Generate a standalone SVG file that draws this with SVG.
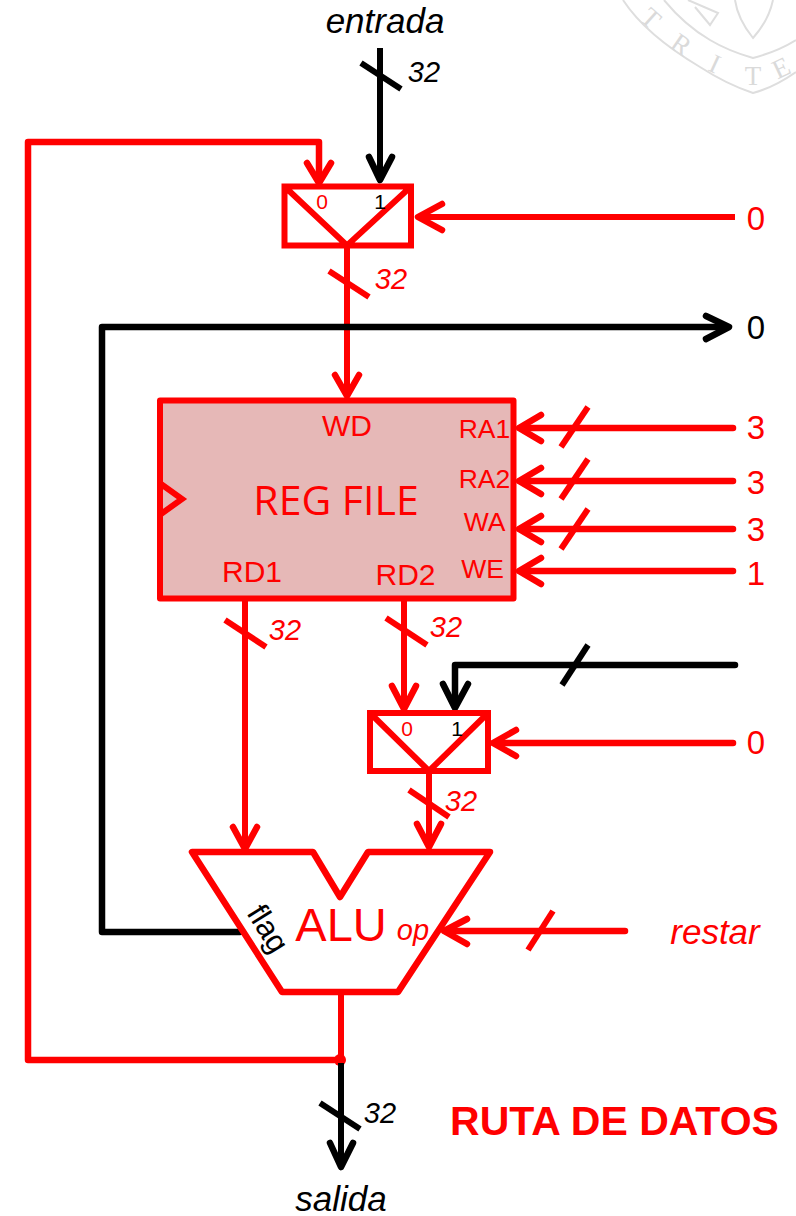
<svg xmlns="http://www.w3.org/2000/svg" width="796" height="1216" viewBox="0 0 796 1216">
<style>
text{font-family:"Liberation Sans",Arial,sans-serif}
.r{fill:none;stroke:#f00;stroke-width:6.500;stroke-linecap:round;stroke-linejoin:round}
.b{fill:none;stroke:#000;stroke-width:6.500;stroke-linecap:round;stroke-linejoin:round}
.rs{fill:none;stroke:#f00;stroke-width:6;stroke-linecap:butt;stroke-linejoin:miter}
.bs{fill:none;stroke:#000;stroke-width:6;stroke-linecap:butt;stroke-linejoin:miter}
.tr{fill:#f00}
.tb{fill:#000}
.i{font-style:italic}
.w{fill:none;stroke:#dedede;stroke-width:2}
.wt{fill:#dadada;font-family:"Liberation Serif",serif;font-size:27px}
</style>
<g id="watermark">
<path class="w" d="M623 0C640 26 668 48 700 67C717 78 735 87 753 93C768 89 783 81 796 72"/>
<path class="w" d="M664 0C678 17 693 30 710 40C725 49 739 54 753 58C768 54 783 48 796 40"/>
<path class="w" d="M735 0C737 14 745 28 753 38C762 28 770 14 773 0"/>
<path class="w" d="M688 0L718 13L710 25L695 7"/>
<text class="wt" transform="translate(645 25) rotate(42)" text-anchor="middle">T</text>
<text class="wt" transform="translate(676 52) rotate(35)" text-anchor="middle">R</text>
<text class="wt" transform="translate(711 72) rotate(25)" text-anchor="middle">I</text>
<text class="wt" transform="translate(753 85)" text-anchor="middle">T</text>
<text class="wt" transform="translate(785 76) rotate(-25)" text-anchor="middle">E</text>
</g>
<g id="connectors">
<path class="bs" d="M380 48V178"/><path class="b" d="M369 157L380 180L392 157" stroke-width="7"/>
<path class="bs" d="M361 63L401 89"/>
<path class="r" d="M319 178V142H28V1060H340"/>
<path class="r" d="M307 163L319 183L331 163"/>
<path class="rs" d="M735 217H420"/><path class="r" d="M442 204L418 217L442 230"/>
<path class="rs" d="M347 246V396"/><path class="r" d="M335 375L347 396L359 375"/>
<path class="rs" d="M329 271L369 297"/>
<path class="b" d="M726 327H102V932H240"/><path class="b" d="M706 316L729 327L706 339"/>
<path class="r" d="M733 428H520"/><path class="r" d="M541 415L519 428L541 441"/><path class="rs" d="M561 447L588 407"/>
<path class="r" d="M733 481H520"/><path class="r" d="M541 468L519 481L541 494"/><path class="rs" d="M561 499L588 459"/>
<path class="r" d="M733 529H520"/><path class="r" d="M541 516L519 529L541 542"/><path class="rs" d="M561 549L588 509"/>
<path class="r" d="M733 571H520"/><path class="r" d="M541 558L519 571L541 584"/>
<path class="rs" d="M245 600V848"/><path class="r" d="M233 827L245 849L257 827"/>
<path class="rs" d="M225 620L266 647"/>
<path class="rs" d="M404 600V706"/><path class="r" d="M392 686L404 709L416 686"/>
<path class="rs" d="M386 618L427 645"/>
<path class="b" d="M735 665H455V706"/><path class="b" d="M443 684L455 708L468 684"/>
<path class="bs" d="M562 685L588 645"/>
<path class="r" d="M733 743H494"/><path class="r" d="M516 730L493 743L516 756"/>
<path class="rs" d="M429 772V846"/><path class="r" d="M417 824L429 847L441 824"/>
<path class="rs" d="M409 790L449 817"/>
<path class="r" d="M625 931H445"/><path class="r" d="M467 919L444 931L467 944"/>
<path class="rs" d="M528 950L553 911"/>
<path class="rs" d="M341 994V1060"/>
<circle cx="340" cy="1060" r="6" fill="#f00"/>
<path class="bs" d="M341 1063V1165"/><path class="b" d="M330 1143L341 1167L353 1143" stroke-width="7"/>
<path class="bs" d="M320 1103L360 1129"/>
</g>
<g id="mux1">
<path class="rs" d="M284.500 186.500H411V245.500H284.500ZM284.500 186.500L347 245.500L411 186.500"/>
<text class="tr" x="322" y="209" font-size="21" text-anchor="middle">0</text>
<text class="tb" x="380" y="209" font-size="21" text-anchor="middle">1</text>
</g>
<g id="regfile">
<rect x="160" y="400.500" width="353.500" height="198" fill="#e6b8b7" stroke="#f00" stroke-width="6" stroke-linejoin="round"/>
<path class="rs" d="M161 484L182 499L161 514"/>
<text class="tr" x="347" y="436" font-size="30" text-anchor="middle">WD</text>
<text class="tr" x="484.500" y="438" font-size="26.500" text-anchor="middle">RA1</text>
<text class="tr" x="484.500" y="488" font-size="26.500" text-anchor="middle">RA2</text>
<text class="tr" x="484.500" y="531" font-size="26.500" text-anchor="middle">WA</text>
<text class="tr" x="482.500" y="578" font-size="26.500" text-anchor="middle">WE</text>
<text class="tr" x="252" y="582" font-size="30" text-anchor="middle">RD1</text>
<text class="tr" x="405.500" y="585" font-size="30" text-anchor="middle">RD2</text>
<text x="336" y="515" font-size="41" text-anchor="middle" style="font-family:'Open Sans','Noto Sans',sans-serif" class="tr">REG FILE</text>
</g>
<g id="mux2">
<path class="rs" d="M370 713H488V771H370ZM370 713L429 771L488 713"/>
<text class="tr" x="407" y="736" font-size="21" text-anchor="middle">0</text>
<text class="tb" x="457" y="736" font-size="21" text-anchor="middle">1</text>
</g>
<g id="alu">
<path class="r" fill="#fff" d="M192 852L313 852L340 897L368 852L490 852L398 992L282 992Z"/>
<text class="tr" x="341" y="941" font-size="47" text-anchor="middle">ALU</text>
<text class="tr i" x="413" y="940" font-size="29" text-anchor="middle">op</text>
<text class="tb" transform="translate(246 913) rotate(58)" font-size="31">flag</text>
</g>
<g id="labels">
<text class="tb i" x="385" y="33" font-size="35" text-anchor="middle">entrada</text>
<text class="tb i" x="424" y="82" font-size="29" text-anchor="middle">32</text>
<text class="tr i" x="391" y="289" font-size="29" text-anchor="middle">32</text>
<text class="tr i" x="285" y="640" font-size="29" text-anchor="middle">32</text>
<text class="tr i" x="446" y="637" font-size="29" text-anchor="middle">32</text>
<text class="tr i" x="461" y="811" font-size="29" text-anchor="middle">32</text>
<text class="tb i" x="380" y="1123" font-size="29" text-anchor="middle">32</text>
<text class="tr" x="756" y="230" font-size="33" text-anchor="middle">0</text>
<text class="tb" x="756" y="339" font-size="33" text-anchor="middle">0</text>
<text class="tr" x="756" y="439" font-size="33" text-anchor="middle">3</text>
<text class="tr" x="756" y="494" font-size="33" text-anchor="middle">3</text>
<text class="tr" x="756" y="541" font-size="33" text-anchor="middle">3</text>
<text class="tr" x="756" y="585" font-size="33" text-anchor="middle">1</text>
<text class="tr" x="756" y="754" font-size="33" text-anchor="middle">0</text>
<text class="tr i" x="715" y="944" font-size="35" text-anchor="middle">restar</text>
<text class="tb i" x="341" y="1211" font-size="35" text-anchor="middle">salida</text>
<text class="tr" x="614.500" y="1135" font-size="41" font-weight="bold" text-anchor="middle">RUTA DE DATOS</text>
</g>
</svg>
